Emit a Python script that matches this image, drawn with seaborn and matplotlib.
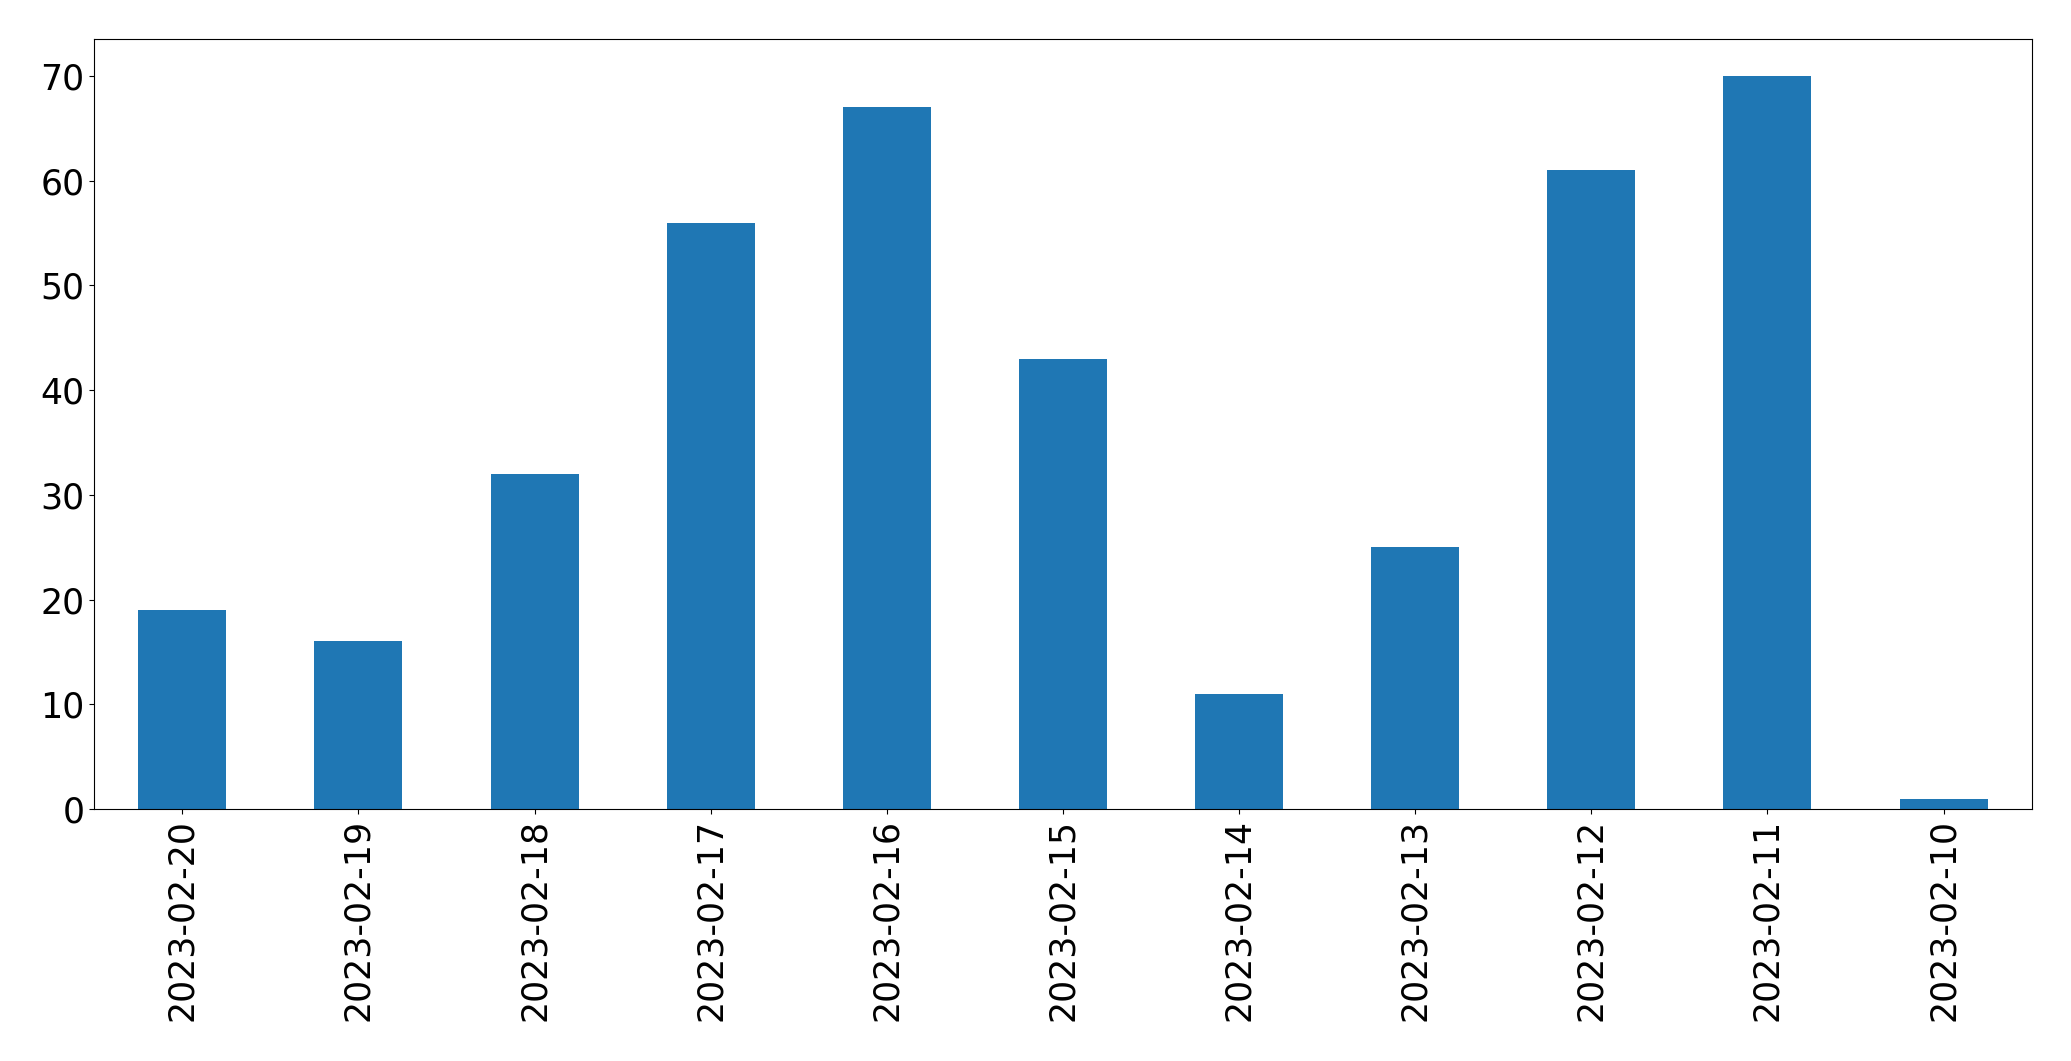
import pandas as pd
import matplotlib
matplotlib.use('Agg')
import matplotlib.pyplot as plt
import seaborn as sns

dates = ['2023-02-20', '2023-02-19', '2023-02-18', '2023-02-17', '2023-02-16',
         '2023-02-15', '2023-02-14', '2023-02-13', '2023-02-12', '2023-02-11',
         '2023-02-10']
counts = [19, 16, 32, 56, 67, 43, 11, 25, 61, 70, 1]

df = pd.DataFrame({'date': dates, 'count': counts})

fig = plt.figure(figsize=(20.71, 10.61), dpi=100)
ax = fig.add_axes([0.0455, 0.2375, 0.9355, 0.7255])

sns.barplot(data=df, x='date', y='count', color='#1f77b4', saturation=1,
            width=0.5, ax=ax)

ax.set_xlim(-0.5, len(dates) - 0.5)
ax.set_ylim(0, 73.5)
ax.set_xlabel('')
ax.set_ylabel('')
ax.tick_params(axis='both', labelsize=25)
plt.setp(ax.get_xticklabels(), rotation=90)

fig.savefig('out.png', dpi=100)
